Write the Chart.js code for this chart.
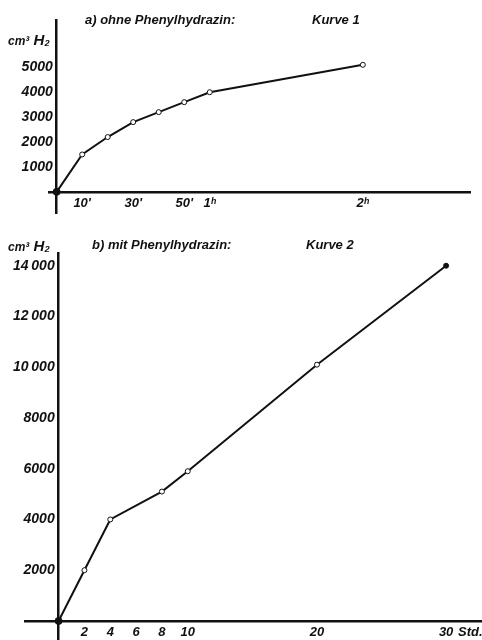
<!DOCTYPE html>
<html>
<head>
<meta charset="utf-8">
<script src="https://cdn.jsdelivr.net/npm/chart.js@4/dist/chart.umd.min.js"></script>
<style>
  body { margin: 0; background: #fff; width: 482px; height: 640px; position: relative; overflow: hidden; }
  canvas { position: absolute; left: 0; }
  .lbl { position: absolute; font: italic bold 13px "Liberation Sans", sans-serif; color: #111; white-space: nowrap; line-height: 16px; }
  .unit { font-size: 15px; }
  .small { font-size: 12px; }
</style>
</head>
<body>
<canvas id="chartA" width="482" height="218" style="top:0"></canvas>
<canvas id="chartB" width="482" height="420" style="top:220px"></canvas>

<div class="lbl" style="left:85px;top:12px">a) ohne Phenylhydrazin:</div>
<div class="lbl" style="left:312px;top:12px">Kurve 1</div>
<div class="lbl unit" style="left:8px;top:32px"><span class="small">cm³</span> H₂</div>

<div class="lbl" style="left:92px;top:237px">b) mit Phenylhydrazin:</div>
<div class="lbl" style="left:306px;top:237px">Kurve 2</div>
<div class="lbl unit" style="left:8px;top:238px"><span class="small">cm³</span> H₂</div>
<div class="lbl" style="left:458px;top:624px">Std.</div>

<script>
// Kurve 1: ohne Phenylhydrazin (minutes)
const minutesA = [0, 10, 20, 30, 40, 50, 60, 120];
const volumeA = [0, 1500, 2200, 2800, 3200, 3600, 4000, 5100];
const xTicksA = [10, 30, 50, 60, 120];
const xTickLabelsA = ["10'", "30'", "50'", "1ʰ", "2ʰ"];
const yTicksA = [1000, 2000, 3000, 4000, 5000];

// Kurve 2: mit Phenylhydrazin (hours)
const hoursB = [0, 2, 4, 8, 10, 20, 30];
const volumeB = [0, 2000, 4000, 5100, 5900, 10100, 14000];
const xTicksB = [2, 4, 6, 8, 10, 20, 30];
const yTicksB = [2000, 4000, 6000, 8000, 10000, 12000, 14000];

const ink = '#111';
const fontFamily = '"Liberation Sans", sans-serif';

function axis(opts) {
  // axes cross at zero, no grid lines or tick marks
  return {
    type: 'linear',
    min: opts.min,
    max: opts.max,
    position: opts.position,
    grid: { display: false, drawTicks: false },
    border: { display: true, color: ink, width: 2.5 },
    ticks: {
      color: ink,
      font: { family: fontFamily, size: opts.size, style: 'italic', weight: 'bold' },
      padding: 4,
      autoSkip: false,
      maxRotation: 0,
      callback: opts.format
    },
    afterBuildTicks: scale => { scale.ticks = opts.ticks.map(v => ({ value: v })); },
    afterFit: scale => {
      scale.paddingTop = 0; scale.paddingBottom = 0;
      scale.paddingLeft = 0; scale.paddingRight = 0;
    }
  };
}

function makeChart(id, xs, ys, lastFilled, scales, padding) {
  const points = xs.map((x, i) => ({ x: x, y: ys[i] }));
  return new Chart(document.getElementById(id), {
    type: 'line',
    data: {
      datasets: [{
        data: points,
        borderColor: ink,
        borderWidth: 2,
        tension: 0,
        pointRadius: ctx => (ctx.dataIndex === 0 ? 3.5 : 2.5),
        pointBorderWidth: 1,
        pointBorderColor: ink,
        pointBackgroundColor: ctx =>
          (ctx.dataIndex === 0 || (lastFilled && ctx.dataIndex === points.length - 1)) ? ink : '#fff',
        clip: false
      }]
    },
    options: {
      responsive: false,
      animation: false,
      layout: { padding: padding, autoPadding: false },
      plugins: { legend: { display: false }, tooltip: { enabled: false } },
      scales: scales
    }
  });
}

// y labels sit left of the axis line, so a trailing space keeps them off it
makeChart('chartA', minutesA, volumeA, false, {
  x: axis({ min: -3, max: 162, position: { y: 0 }, ticks: xTicksA, size: 13,
            format: v => xTickLabelsA[xTicksA.indexOf(v)] }),
  y: axis({ min: -850, max: 6900, position: { x: 0 }, ticks: yTicksA, size: 14,
            format: v => v + ' ' })
}, { left: 49, right: 12, top: 20, bottom: 5 });

makeChart('chartB', hoursB, volumeB, true, {
  x: axis({ min: -2.6, max: 32.7, position: { y: 0 }, ticks: xTicksB, size: 13,
            format: v => String(v) }),
  y: axis({ min: -750, max: 14500, position: { x: 0 }, ticks: yTicksB, size: 14,
            format: v => (v >= 10000 ? Math.floor(v / 1000) + '\u2009000' : String(v)) + ' ' })
}, { left: 25, right: 1, top: 33, bottom: 0 });
</script>
</body>
</html>
